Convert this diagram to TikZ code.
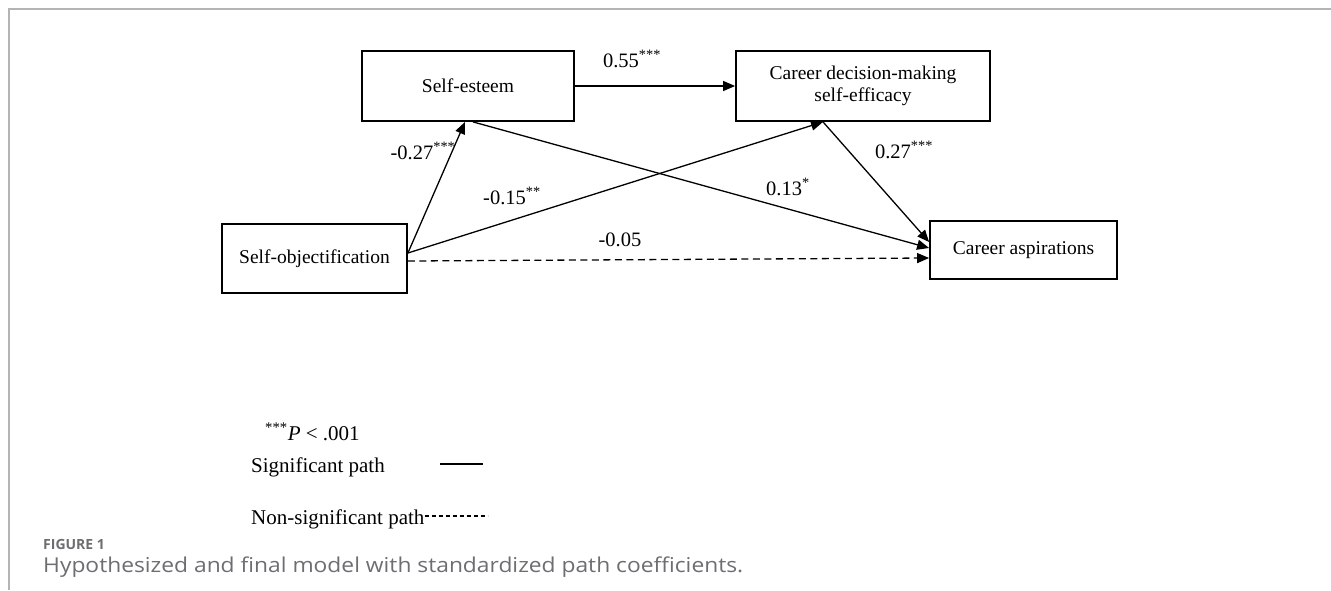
\documentclass[tikz,border=0pt]{standalone}
\usepackage{fontspec}
\usepackage{graphicx}
\setmainfont{Liberation Serif}
\newfontfamily\capfont{Open Sans}
\usetikzlibrary{arrows.meta}
\definecolor{framegray}{HTML}{B4B4B4}
\definecolor{capgray}{HTML}{6D6E71}
\begin{document}
\begin{tikzpicture}[x=1pt,y=-1pt,
  box/.style={draw, line width=1.8pt, inner sep=0pt, align=center, font=\fontsize{19.5}{21.5}\selectfont},
  path/.style={line width=1.3pt, -{Triangle[length=12pt,width=10pt]}},
  nspath/.style={path, dash pattern=on 7pt off 4.5pt},
  coef/.style={font=\fontsize{20.5}{22}\selectfont, inner sep=0pt},
  legend/.style={font=\fontsize{21}{23}\selectfont, inner sep=0pt, anchor=west}]
\useasboundingbox (0,0) rectangle (1331,590);
\fill[white] (0,0) rectangle (1331,590);
% frame
\draw[framegray, line width=1.5pt] (9,590) -- (9,9) -- (1331,9);
% boxes
\node[box, minimum width=212pt, minimum height=70pt] (se) at (468,86) {Self-esteem};
\node[box, minimum width=254pt, minimum height=70pt] (cd) at (863,86) {Career decision-making\\self-efficacy};
\node[box, minimum width=187pt, minimum height=58pt] (ca) at (1023.5,250) {Career aspirations};
\node[box, minimum width=185pt, minimum height=69pt] (so) at (314.5,258.5) {Self-objectification};
% connection points
\coordinate (soA) at ([yshift=5.5pt]so.east);
\coordinate (soB) at ([yshift=-2.5pt]so.east);
\coordinate (seIn) at ([xshift=-3pt]se.south);
\coordinate (seOut) at ([xshift=5pt]se.south);
\coordinate (cdIn) at ([xshift=-40pt]cd.south);
\coordinate (caA) at ([yshift=8pt]ca.west);
\coordinate (caB) at ([yshift=2pt]ca.west);
\coordinate (caC) at ([yshift=-8pt]ca.west);
% paths
\draw[path] (se.east) -- (cd.west);
\draw[path] (soA) -- (seIn);
\draw[path] (soA) -- (cdIn);
\draw[path] (seOut) -- (caB);
\draw[path] (cdIn) -- (caA);
\draw[nspath] (soB) -- (caC);
% coefficients
\node[coef] (c1) at (632,59) {0.55\textsuperscript{***}};
\node[coef] (c2) at (423,151) {-0.27\textsuperscript{***}};
\node[coef] (c3) at (512,196) {-0.15\textsuperscript{**}};
\node[coef] (c4) at (788,187) {0.13\textsuperscript{*}};
\node[coef] (c5) at (904,150) {0.27\textsuperscript{***}};
\node[coef] (c6) at (620,240) {-0.05};
% legend
\node[legend] (l1) at (265,432) {\textsuperscript{***}\textit{P} {\char"003C} .001};
\node[legend] (l2) at (251,467) {Significant path};
\node[legend] (l3) at (251,519) {Non-significant path};
\coordinate (s1) at (440,464);
\coordinate (s2) at (483,464);
\draw[line width=1.2pt] (s1) -- (s2);
\coordinate (d1) at (l3.east);
\coordinate (d2) at ([xshift=63pt]l3.east);
\draw[line width=1.2pt, dash pattern=on 4pt off 3pt] ([yshift=3pt]d1) -- ([yshift=3pt]d2);
% caption
\node[anchor=west, inner sep=0pt, text=capgray, font=\capfont\bfseries\fontsize{14}{16}\selectfont] (fig) at (43,544) {FIGURE 1};
\node[anchor=west, inner sep=0pt, text=capgray, font=\capfont\fontsize{20.5}{22}\selectfont] (cap) at (43,567) {\resizebox{700pt}{\height}{Hypothesized and final model with standardized path coefficients.}};
\end{tikzpicture}
\end{document}
